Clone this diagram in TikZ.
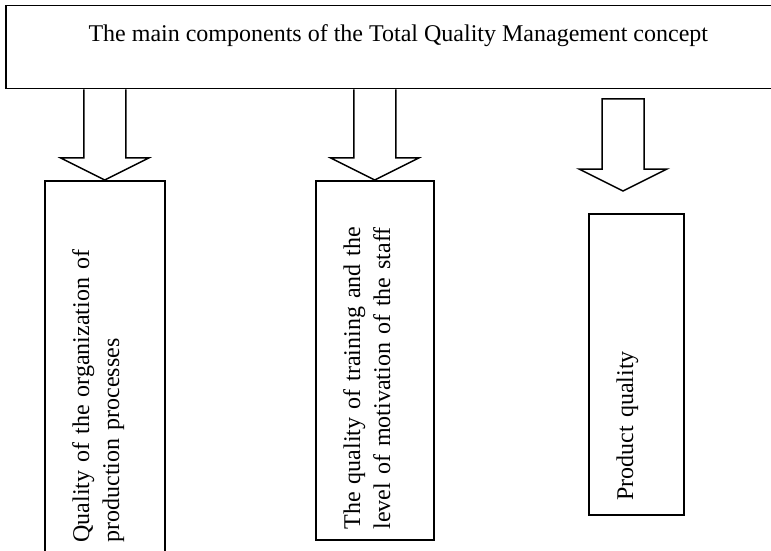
\documentclass[tikz,border=0pt]{standalone}
\usepackage{fontspec}
\setmainfont{Liberation Serif}
\usetikzlibrary{positioning, calc}

% block arrow pointing down: [closing], start point, tip point
\newcommand{\blockarrow}[3][]{%
  \draw[line width=0.75pt] let \p1=#2, \p2=#3 in
    (\x2-10.5pt,\y1) -- (\x2-10.5pt,\y2+11pt) -- (\x2-22pt,\y2+11pt) -- (\p2)
    -- (\x2+22pt,\y2+11pt) -- (\x2+10.5pt,\y2+11pt) -- (\x2+10.5pt,\y1) #1;}

\begin{document}
\begin{tikzpicture}[x=0.5pt, y=-0.5pt, font=\fontsize{12}{15}\selectfont,
    compbox/.style={draw, line width=0.75pt, rectangle, anchor=north west, inner sep=0pt},
    vtext/.style={rotate=90, anchor=base west, align=left, inner sep=0pt, text width=#1}]
\useasboundingbox (0,0) rectangle (771,551);

% top box
\node[compbox, minimum width=392.5pt, text height=18pt, text depth=23.5pt] (tqm) at (5,5)
    {The main components of the Total Quality Management concept};

% components
\node[compbox, minimum width=60pt, minimum height=188pt] (org) at (44,180) {};
\node[compbox, minimum width=59pt, minimum height=179.5pt] (staff) at (315,180) {};
\node[compbox, minimum width=47.5pt, minimum height=150.5pt] (product) at (588,213) {};

\node[vtext=180pt] (orgtext) at (89,543)
    {Quality of the organization of\\production processes};
\node[vtext=175pt] (stafftext) at (360,530)
    {The quality of training and the\\level of motivation of the staff};
\node[vtext=140pt] (producttext) at (633,501) {Product quality};

% arrows
\blockarrow{(tqm.south -| org.north)}{(org.north)}
\blockarrow{(tqm.south -| staff.north)}{(staff.north)}
\coordinate (pstart) at (623,99);
\coordinate (ptip) at (623,191);
\blockarrow[-- cycle]{(pstart)}{(ptip)}
\end{tikzpicture}
\end{document}
